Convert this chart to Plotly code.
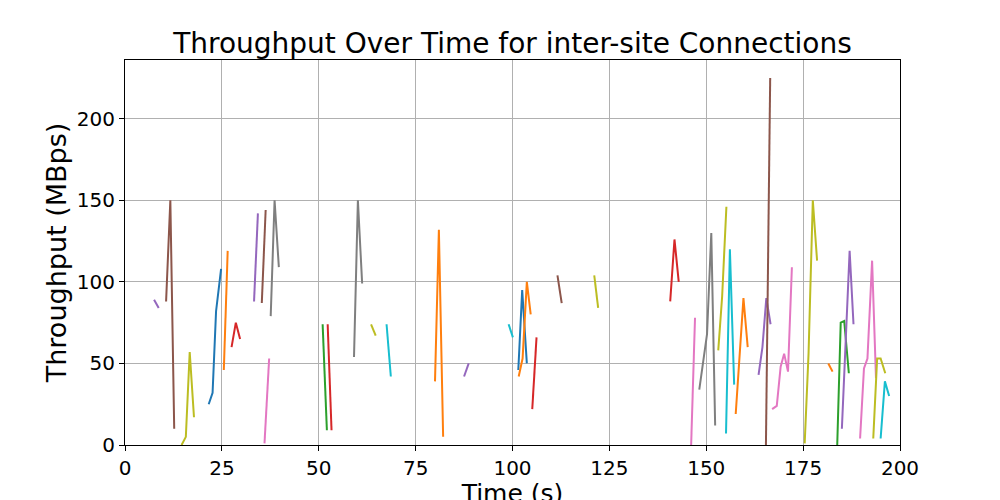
import plotly.graph_objects as go

# tab10 palette, same as matplotlib's default cycle
tab10 = ["#1f77b4", "#ff7f0e", "#2ca02c", "#d62728", "#9467bd",
         "#8c564b", "#e377c2", "#7f7f7f", "#bcbd22", "#17becf"]

# one (times, throughput) pair per connection
conn_times = [
    [7.5, 8.7],
    [10.6, 11.7, 12.7],
    [14.6, 15.7, 16.7, 17.8],
    [21.6, 22.6, 23.5, 24.8],
    [25.5, 26.5],
    [27.5, 28.6, 29.7],
    [33.3, 34.3],
    [35.3, 36.3],
    [37.6, 38.6, 39.7],
    [36.0, 37.2],
    [51.0, 52.1],
    [52.3, 53.3],
    [59.1, 60.1, 61.2],
    [63.5, 64.7],
    [67.5, 68.6],
    [80.0, 81.0, 82.1],
    [87.5, 88.7],
    [99.0, 100.1],
    [101.5, 102.5, 103.7],
    [101.6, 102.6, 103.7, 104.7],
    [105.1, 106.2],
    [111.6, 112.7],
    [121.1, 122.1],
    [140.7, 141.8, 142.9],
    [146.1, 147.1],
    [148.2, 150.2, 151.3, 152.3],
    [153.1, 154.1, 155.2],
    [155.1, 156.1, 157.2],
    [157.6, 159.6, 160.7],
    [163.5, 164.5, 165.5, 166.6],
    [165.4, 166.5],
    [167.0, 168.2, 169.2, 170.1, 171.1, 172.1],
    [175.4, 176.4, 177.5, 178.6],
    [181.5, 182.6],
    [183.8, 184.7, 185.6, 186.8],
    [185.0, 187.0, 188.0],
    [189.7, 190.7, 191.6, 192.8, 193.8],
    [193.1, 194.1, 195.0, 196.2],
    [195.0, 196.1, 197.2],
]
conn_mbps = [
    [89, 84],
    [88, 150, 10],
    [0, 5, 57, 17],
    [25, 32, 82, 108],
    [46, 119],
    [60, 75, 65],
    [88, 142],
    [87, 144],
    [79, 150, 109],
    [1, 53],
    [74, 9],
    [74, 9],
    [54, 150, 99],
    [74, 67],
    [74, 42],
    [39, 132, 5],
    [42, 50],
    [74, 66],
    [46, 95, 50],
    [42, 53, 100, 80],
    [22, 66],
    [104, 87],
    [104, 84],
    [88, 126, 100],
    [0, 78],
    [34, 68, 130, 12],
    [58, 91, 146],
    [7, 120, 37],
    [19, 90, 60],
    [43, 60, 90, 74],
    [0, 225],
    [22, 24, 48, 56, 45, 109],
    [1, 56, 150, 113],
    [50, 45],
    [0, 75, 76, 44],
    [10, 119, 74],
    [4, 47, 53, 113, 41],
    [4, 53, 53, 44],
    [4, 39, 30],
]
# colour index into tab10 for each connection
conn_color = [4, 5, 8, 0, 1, 3, 4, 5, 7, 6,
              2, 3, 7, 8, 9, 1, 4, 9, 0, 1,
              3, 5, 8, 3, 6, 7, 8, 9, 1, 4,
              5, 6, 8, 1, 2, 4, 6, 8, 9]

x_ticks = [0, 25, 50, 75, 100, 125, 150, 175, 200]
y_ticks = [0, 50, 100, 150, 200]

fig = go.Figure()
for i, (t, v) in enumerate(zip(conn_times, conn_mbps)):
    fig.add_trace(go.Scatter(x=t, y=v, mode="lines", name=f"conn {i}",
                             line=dict(color=tab10[conn_color[i]], width=2)))

axis_style = dict(showline=True, linecolor="black", linewidth=1, mirror=True,
                  ticks="outside", tickcolor="black", ticklen=5,
                  showgrid=True, gridcolor="#b0b0b0", gridwidth=1,
                  zeroline=False, tickfont=dict(size=20, color="black"))

# the page body adds ~8px, so margins are shifted to compensate
fig.update_layout(
    width=1000, height=500,
    margin=dict(l=117, r=108, t=52, b=63),
    plot_bgcolor="white", paper_bgcolor="white",
    font=dict(family="DejaVu Sans", color="black"),
    showlegend=False,
    title=dict(text="Throughput Over Time for inter-site Connections",
               x=0.5, xref="paper", xanchor="center",
               y=1.0, yref="paper", yanchor="bottom",
               pad=dict(b=7), font=dict(size=28)),
    xaxis=dict(range=[0, 200], tickvals=x_ticks,
               title=dict(text="Time (s)", font=dict(size=25), standoff=6),
               automargin=False, **axis_style),
    yaxis=dict(range=[0, 236], tickvals=y_ticks,
               title=dict(text="Throughput (MBps)", font=dict(size=27), standoff=2),
               automargin=False, **axis_style),
)

fig.write_html("out.html")
